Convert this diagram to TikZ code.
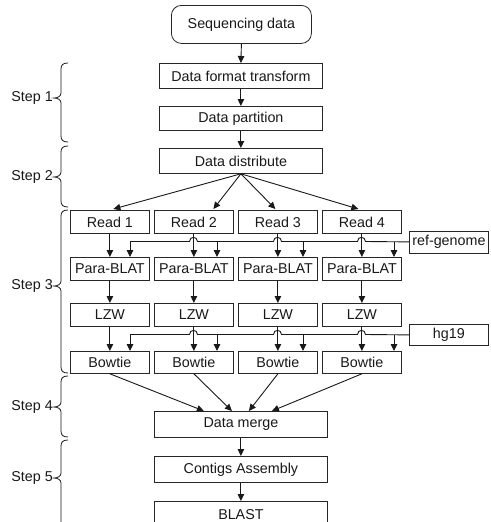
\documentclass[tikz,border=0pt]{standalone}
\usepackage{fontspec}
\setmainfont{Liberation Sans}
\usetikzlibrary{arrows.meta}
\newcommand\stepbrace[3]{\draw[brc] (68,#1) .. controls (63,#1) and (61,#1+2) .. (61,#1+6) -- (61,#2-5) .. controls (61,#2-2) and (58,#2) .. (54,#2) .. controls (58,#2) and (61,#2+2) .. (61,#2+5) -- (61,#3-6) .. controls (61,#3-2) and (63,#3) .. (68,#3);}
\begin{document}
\begin{tikzpicture}[x=1pt,y=-1pt,
  box/.style={draw=black!85, line width=0.8pt, inner sep=0pt, anchor=north west, font=\fontsize{14.3}{17}\selectfont, text=black!90},
  arr/.style={draw=black!90, line width=0.9pt, -{Triangle[length=7pt,width=6.5pt]}},
  ln/.style={draw=black!90, line width=0.9pt},
  lbl/.style={anchor=east, inner sep=0pt, font=\fontsize{14.3}{17}\selectfont, text=black!90},
  brc/.style={draw=black!90, line width=0.8pt}
]
\useasboundingbox (0,0) rectangle (490,522);
\clip (0,0) rectangle (490,522);
\fill[white] (0,0) rectangle (490,522);

% top chain
\node[box, rounded corners=10pt, minimum width=140pt, minimum height=38pt] (seq) at (171,5) {Sequencing data};
\node[box, minimum width=163pt, minimum height=25pt] (dft) at (159,63) {Data format transform};
\node[box, minimum width=163pt, minimum height=24pt] (dp) at (159,106) {Data partition};
\node[box, minimum width=163pt, minimum height=25pt] (dd) at (159,148) {Data distribute};

% columns
\foreach \i/\x in {1/70,2/154,3/238,4/322}{
  \node[box, minimum width=79pt, minimum height=23pt] (rd\i) at (\x,210) {Read \i};
  \node[box, minimum width=79pt, minimum height=23pt] (pb\i) at (\x,257) {Para-BLAT};
  \node[box, minimum width=79pt, minimum height=23pt] (lz\i) at (\x,303) {LZW};
  \node[box, minimum width=79pt, minimum height=22pt] (bt\i) at (\x,351) {Bowtie};
}
\node[box, minimum width=79pt, minimum height=22pt] (ref) at (409,230.5) {ref-genome};
\node[box, minimum width=79pt, minimum height=21pt] (hg) at (409,324) {hg19};

\node[box, minimum width=173pt, minimum height=26pt] (dm) at (154,411) {Data merge};
\node[box, minimum width=173pt, minimum height=26pt] (ca) at (154,456) {Contigs Assembly};
\node[box, minimum width=173pt, minimum height=26pt] (bl) at (154,501) {BLAST};

% arrows top chain
\draw[arr] (seq.south) -- (dft.north);
\draw[arr] (dft.south) -- (dp.north);
\draw[arr] (dp.south) -- (dd.north);
\draw[arr] (dd.south) -- ([xshift=3.5pt,yshift=1pt]rd1.north);
\draw[arr] (dd.south) -- ([xshift=19.5pt,yshift=1pt]rd2.north);
\draw[arr] (dd.south) -- ([xshift=-2.5pt,yshift=1pt]rd3.north);
\draw[arr] (dd.south) -- ([xshift=-3.5pt,yshift=1pt]rd4.north);

% column arrows
\foreach \i in {1,2,3,4}{
  \draw[arr] (rd\i.south) -- (pb\i.north);
  \draw[arr] (pb\i.south) -- (lz\i.north);
  \draw[arr] (lz\i.south) -- (bt\i.north);
}

% ref-genome line with hops
\draw[ln] (ref.west) -- (365.5,241.5) .. controls (365.5,236) and (357.5,236) .. (357.5,241.5)
  -- (281.5,241.5) .. controls (281.5,236) and (273.5,236) .. (273.5,241.5)
  -- (197.5,241.5) .. controls (197.5,236) and (189.5,236) .. (189.5,241.5)
  -- (130,241.5);
\coordinate (rg1) at (130,241.5);
\coordinate (rg2) at (217,241.5);
\coordinate (rg3) at (303,241.5);
\coordinate (rg4) at (394,241.5);
\foreach \i in {1,2,3,4}{ \draw[arr] (rg\i) -- (rg\i |- pb\i.north); }

% hg19 line with hops
\draw[ln] (hg.west) -- (365.5,334.5) .. controls (365.5,329) and (357.5,329) .. (357.5,334.5)
  -- (281.5,334.5) .. controls (281.5,329) and (273.5,329) .. (273.5,334.5)
  -- (197.5,334.5) .. controls (197.5,329) and (189.5,329) .. (189.5,334.5)
  -- (130,334.5);
\coordinate (hh1) at (130,334.5);
\coordinate (hh2) at (217,334.5);
\coordinate (hh3) at (303,334.5);
\coordinate (hh4) at (394,334.5);
\foreach \i in {1,2,3,4}{ \draw[arr] (hh\i) -- (hh\i |- bt\i.north); }

% merge
\draw[arr] (bt1.south) -- ([xshift=-37pt]dm.north);
\draw[arr] (bt2.south) -- ([xshift=-9pt]dm.north);
\draw[arr] (bt3.south) -- ([xshift=8pt]dm.north);
\draw[arr] (bt4.south) -- ([xshift=31pt]dm.north);
\draw[arr] (dm.south) -- (ca.north);
\draw[arr] (ca.south) -- (bl.north);

% steps
\stepbrace{63}{98}{142}
\stepbrace{146}{177}{207}
\stepbrace{210}{286}{373}
\stepbrace{376}{407}{437}
\stepbrace{440}{478}{530}
\node[lbl] (s1) at (53,98) {Step 1};
\node[lbl] (s2) at (53,177) {Step 2};
\node[lbl] (s3) at (53,286) {Step 3};
\node[lbl] (s4) at (53,407) {Step 4};
\node[lbl] (s5) at (53,478) {Step 5};
\end{tikzpicture}
\end{document}
